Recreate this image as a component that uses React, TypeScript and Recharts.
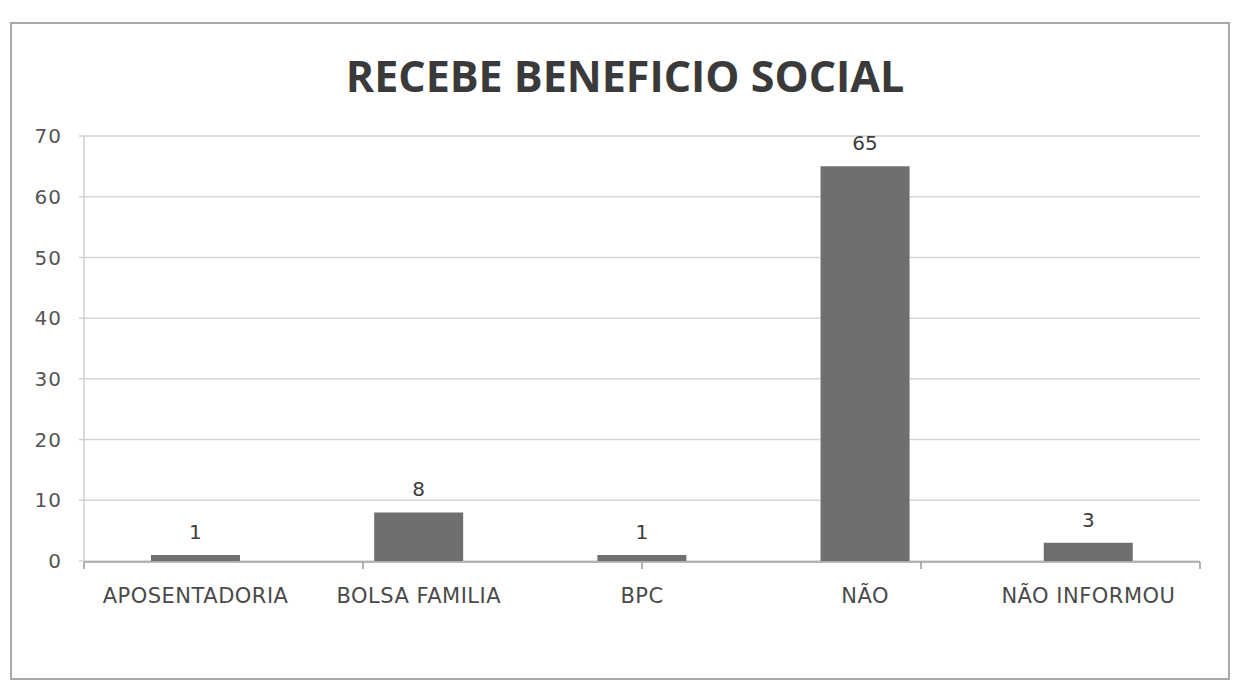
import React from "react";
import { BarChart, Bar, XAxis, YAxis, CartesianGrid, LabelList } from "recharts";

const categories = ["APOSENTADORIA", "BOLSA FAMILIA", "BPC", "NÃO", "NÃO INFORMOU"];
const values = [1, 8, 1, 65, 3];
const yTicks = [0, 10, 20, 30, 40, 50, 60, 70];
const boundaryTicks = [0, 1, 2, 3, 4, 5];
const title = "RECEBE BENEFICIO SOCIAL";

const data = categories.map((c, i) => ({ name: c, value: values[i] }));

export default function App() {
  return (
    <div style={{ position: "relative", width: 1223, height: 674, background: "#fff" }}>
      <div
        style={{
          position: "absolute",
          left: 2,
          top: 14,
          width: 1216,
          height: 654,
          border: "2px solid #a8a8a8",
        }}
      />
      <div
        style={{
          position: "absolute",
          left: 617,
          top: 44,
          transform: "translateX(-50%)",
          whiteSpace: "nowrap",
          fontFamily: "'Open Sans', sans-serif",
          fontWeight: 700,
          fontSize: 43,
          lineHeight: "48px",
          color: "#3a3a3a",
        }}
      >
        {title}
      </div>
      <div style={{ position: "absolute", left: 0, top: 0 }}>
        <BarChart
          width={1223}
          height={674}
          data={data}
          margin={{ top: 128, right: 31, left: 0, bottom: 0 }}
          barCategoryGap="30%"
        >
          <CartesianGrid vertical={false} stroke="#d6d6d6" strokeWidth={1.5} />
          <XAxis
            dataKey="name"
            height={1}
            tickLine={false}
            axisLine={false}
            tickSize={6}
            tickMargin={21}
            interval={0}
            tick={{ fill: "#4a4a4a", fontSize: 21, fontFamily: "'DejaVu Sans', sans-serif", letterSpacing: 0.5 }}
          />
          <XAxis
            xAxisId="b"
            type="number"
            domain={[0, 5]}
            ticks={boundaryTicks}
            allowDataOverflow
            height={120}
            tickFormatter={() => ""}
            tickSize={7}
            tickLine={{ stroke: "#999", strokeWidth: 1.5 }}
            axisLine={{ stroke: "#a0a0a0", strokeWidth: 1.5 }}
          />
          <YAxis
            width={76}
            domain={[0, 70]}
            ticks={yTicks}
            interval={0}
            tickSize={5}
            tickMargin={17}
            tickLine={{ stroke: "#d0d0d0", strokeWidth: 1.5 }}
            axisLine={{ stroke: "#d0d0d0", strokeWidth: 1.5 }}
            tick={{ fill: "#555", fontSize: 20, fontFamily: "'DejaVu Sans', sans-serif", letterSpacing: 1 }}
          />
          <Bar dataKey="value" fill="#6f6f6f" isAnimationActive={false}>
            <LabelList
              dataKey="value"
              position="top"
              offset={16}
              fill="#3d3d3d"
              fontSize={20}
              fontFamily="'DejaVu Sans', sans-serif"
            />
          </Bar>
        </BarChart>
      </div>
    </div>
  );
}
